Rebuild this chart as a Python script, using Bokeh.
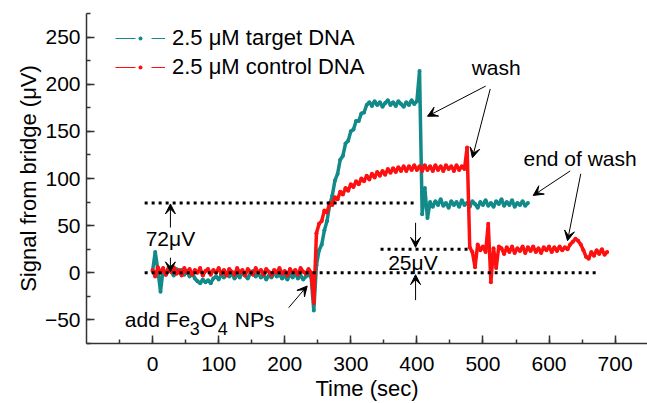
from bokeh.plotting import figure
from bokeh.models import Range1d, FixedTicker, Legend, LegendItem, Arrow, VeeHead, Label
from bokeh.embed import file_html
from bokeh.resources import INLINE

# ---- data ----
target_t = list(range(0, 572, 4))
target_v = [2, 22, 3, -20, 4, -2, 5, 1, -3, 4,
            0, 3, -2, 2, -4, 0, -6, -9, -11, -7,
            -10, -8, -11, -6, -4, -7, -2, -5, 0, -4,
            -1, -6, -2, -5, 0, -3, -6, -1, 2, -4,
            -1, -5, -2, -7, -3, -5, 0, -4, -2, -6,
            -3, -7, -2, -5, -1, -6, -3, -7, -4, -2,
            -5, -40, 8, 24, 30, 45, 55, 72, 82, 98,
            105, 120, 124, 137, 140, 150, 152, 161, 161, 169,
            170, 178, 181, 177, 182, 178, 181, 176, 180, 183,
            178, 181, 177, 182, 179, 176, 181, 178, 183, 179,
            182, 214, 62, 90, 58, 75, 70, 76, 72, 78,
            71, 74, 69, 76, 72, 75, 70, 77, 72, 74,
            70, 76, 73, 69, 75, 72, 77, 71, 74, 70,
            76, 73, 78, 71, 75, 72, 77, 70, 74, 72,
            76, 71, 74]

control_t = list(range(0, 692, 4))
control_v = [3, -4, 6, 0, 5, -2, 4, 1, 6, -1,
             3, -3, 5, 0, 4, -2, 3, 0, 5, -3,
             2, 4, -2, 3, 0, 5, -1, 3, -3, 4,
             1, -2, 5, 0, 3, -3, 4, 1, -2, 5,
             0, 3, -2, 4, 1, -3, 3, 0, 5, -1,
             2, -3, 4, 0, 3, -2, 5, 1, -1, 4,
             0, -32, 42, 52, 55, 66, 64, 74, 72, 80,
             78, 86, 83, 90, 87, 94, 91, 97, 94, 100,
             97, 103, 99, 105, 101, 107, 103, 108, 104, 110,
             106, 111, 107, 112, 108, 113, 108, 113, 109, 114,
             109, 113, 108, 114, 109, 113, 108, 114, 109, 113,
             108, 114, 110, 113, 108, 114, 109, 113, 110, 133,
             27, 22, 6, 30, 24, 28, 22, 52, -10, 26,
             5, 28, 26, 20, 27, 22, 28, 21, 26, 23,
             28, 21, 27, 23, 28, 22, 26, 21, 27, 24,
             28, 22, 27, 23, 28, 24, 27, 25, 30, 33,
             36, 34, 30, 24, 17, 15, 22, 18, 24, 20,
             25, 19, 22]

series_names = ["2.5 \u03bcM target DNA", "2.5 \u03bcM control DNA"]
x_ticks = [0, 100, 200, 300, 400, 500, 600, 700]
y_ticks = [-50, 0, 50, 100, 150, 200, 250]

TEAL = "#128a8a"
RED = "#ff1010"
FONT = "Liberation Sans"

p = figure(width=647, height=403, output_backend="svg", toolbar_location=None,
           x_range=Range1d(-100, 749), y_range=Range1d(-75, 275),
           min_border_left=86, min_border_right=0, min_border_top=13, min_border_bottom=60)
p.outline_line_color = None
p.xgrid.visible = False
p.ygrid.visible = False
p.background_fill_color = "white"
p.border_fill_color = "white"

for ax in (p.xaxis[0], p.yaxis[0]):
    ax.axis_line_color = "#333333"
    ax.axis_line_width = 1.5
    ax.major_tick_line_color = "#333333"
    ax.minor_tick_line_color = "#333333"
    ax.major_tick_line_width = 1.5
    ax.minor_tick_line_width = 1.5
    ax.major_tick_in = 8
    ax.major_tick_out = 0
    ax.minor_tick_in = 4
    ax.minor_tick_out = 0
    ax.major_label_text_font = FONT
    ax.major_label_text_font_size = "21px"
    ax.major_label_text_color = "black"
    ax.axis_label_text_font = FONT
    ax.axis_label_text_font_size = "22px"
    ax.axis_label_text_font_style = "normal"
    ax.axis_label_text_color = "black"

p.xaxis.ticker = FixedTicker(ticks=x_ticks, minor_ticks=list(range(-50, 751, 50)))
p.yaxis.ticker = FixedTicker(ticks=y_ticks, minor_ticks=list(range(-75, 276, 25)))
p.xaxis.axis_label = "Time (sec)"
p.yaxis.axis_label = "Signal from bridge (\u03bcV)"
p.xaxis.major_label_standoff = 13
p.xaxis.axis_label_standoff = 2
p.yaxis.major_label_standoff = 6
p.yaxis.axis_label_standoff = 1

# legend-only dashed renderers (drawn first, hidden below the solid traces)
lt = p.line(target_t, target_v, line_color=TEAL, line_width=1.2, line_dash="20 16")
st = p.scatter(target_t, target_v, size=3, fill_color=TEAL, line_color=None)
lc = p.line(control_t, control_v, line_color=RED, line_width=1.2, line_dash="20 16")
sc = p.scatter(control_t, control_v, size=3, fill_color=RED, line_color=None)

# data
p.line(target_t, target_v, line_color=TEAL, line_width=3.5)
p.scatter(target_t, target_v, size=4, fill_color=TEAL, line_color=None)
p.line(control_t, control_v, line_color=RED, line_width=3.5)
p.scatter(control_t, control_v, size=4, fill_color=RED, line_color=None)

# dotted reference levels
p.segment(x0=[-12, -12, 345], y0=[74, 0, 25], x1=[395, 675, 478], y1=[74, 0, 25],
          line_color="black", line_width=3, line_dash="3 4")

# arrows
arrows = [
    (27, 48, 27, 73), (27, 16, 27, 1),
    (398, 53, 398, 27), (398, -29, 398, -2),
    (206, -37, 234, -14),
    (504, 198, 416, 166), (511, 195, 484, 122),
    (632, 108, 576, 82), (648, 105, 628, 34),
]
for xs, ys, xe, ye in arrows:
    p.add_layout(Arrow(end=VeeHead(size=10, fill_color="black", line_color="black", line_width=1),
                       x_start=xs, y_start=ys, x_end=xe, y_end=ye,
                       line_color="black", line_width=1))

def lab(x, y, text, size="21px", align="center", baseline="middle", xo=0, yo=0):
    p.add_layout(Label(x=x, y=y, text=text, text_font=FONT, text_font_size=size,
                       text_align=align, text_baseline=baseline, text_color="black",
                       x_offset=xo, y_offset=yo))

lab(520, 218, "wash")
lab(647, 121, "end of wash")
lab(27, 36, "72\u03bcV")
lab(394, 11, "25\u03bcV")
# add Fe3O4 NPs
lab(-42, -50, "add Fe", align="left", baseline="alphabetic")
lab(-42, -50, "3", size="18px", align="left", baseline="alphabetic", xo=65, yo=-9)
lab(-42, -50, "O", align="left", baseline="alphabetic", xo=76)
lab(-42, -50, "4", size="18px", align="left", baseline="alphabetic", xo=93, yo=-9)
lab(-42, -50, "NPs", align="left", baseline="alphabetic", xo=110)

legend = Legend(items=[LegendItem(label=series_names[0], renderers=[lt, st]),
                       LegendItem(label=series_names[1], renderers=[lc, sc])],
                location=(29, 263), glyph_width=50, glyph_height=10, label_height=24,
                spacing=3, padding=0, margin=0, label_standoff=7,
                label_text_font=FONT, label_text_font_size="22px", label_text_color="black",
                border_line_alpha=0, background_fill_alpha=0)
p.add_layout(legend)

open("out.html", "w").write(file_html(p, INLINE))
